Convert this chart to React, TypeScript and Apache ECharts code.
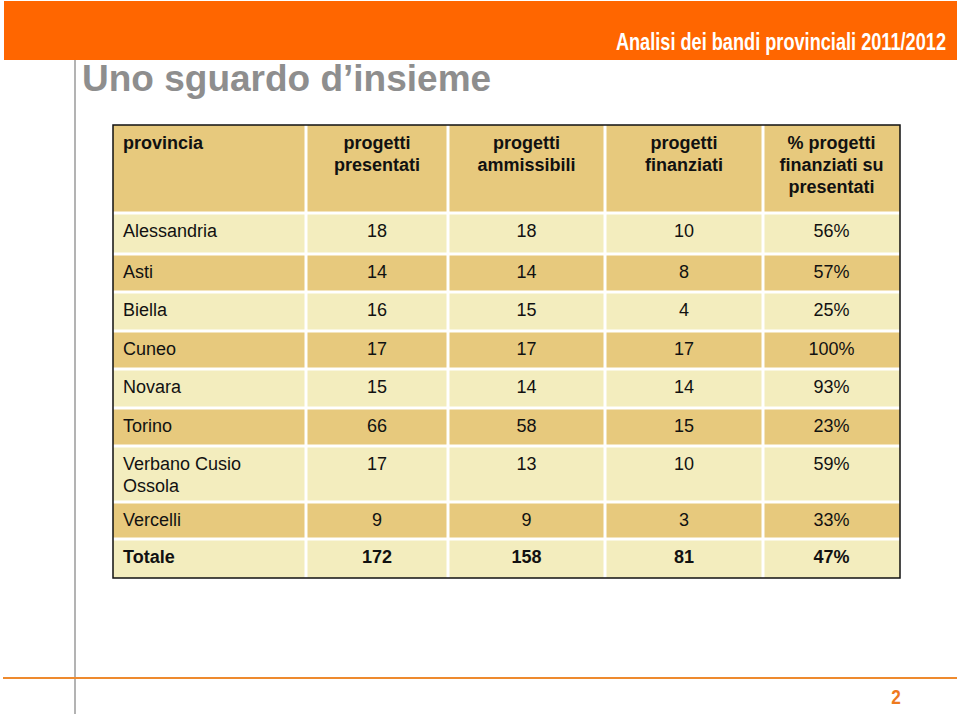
import React, { useEffect, useRef } from "react";
import * as echarts from "echarts";

const headers = [
  "provincia",
  "progetti\npresentati",
  "progetti\nammissibili",
  "progetti\nfinanziati",
  "% progetti\nfinanziati su\npresentati",
];
const provinces = [
  "Alessandria",
  "Asti",
  "Biella",
  "Cuneo",
  "Novara",
  "Torino",
  "Verbano Cusio\nOssola",
  "Vercelli",
];
const presentati = [18, 14, 16, 17, 15, 66, 17, 9];
const ammissibili = [18, 14, 15, 17, 14, 58, 13, 9];
const finanziati = [10, 8, 4, 17, 14, 15, 10, 3];
const percentFinanziati = [56, 57, 25, 100, 93, 23, 59, 33];
const totalLabel = "Totale";
const totals = [172, 158, 81, 47];

const bannerText = "Analisi dei bandi provinciali 2011/2012";
const titleText = "Uno sguardo d\u2019insieme";
const pageNumber = "2";

// layout (pixels inside the table grid)
const colEdges = [0, 193, 335, 492, 650, 787];
const rowEdges = [0, 88, 129, 167, 206, 244, 283, 321, 377, 414, 453];

const DARK = "#E7C97D";
const LIGHT = "#F3EDBE";
const FONT = "'Liberation Sans', Arial, sans-serif";

function buildRows(): string[][] {
  const rows: string[][] = [headers];
  provinces.forEach((p, i) => {
    rows.push([
      p,
      String(presentati[i]),
      String(ammissibili[i]),
      String(finanziati[i]),
      percentFinanziati[i] + "%",
    ]);
  });
  rows.push([
    totalLabel,
    String(totals[0]),
    String(totals[1]),
    String(totals[2]),
    totals[3] + "%",
  ]);
  return rows;
}

export default function App() {
  const ref = useRef<HTMLDivElement>(null);
  useEffect(() => {
    document.body.style.margin = "0";
    const chart = echarts.init(ref.current!, null, { renderer: "svg" });
    const rows = buildRows();
    const data: number[][] = [];
    rows.forEach((r, ri) => r.forEach((_, ci) => data.push([ci, ri])));
    const nRows = rows.length;

    chart.setOption({
      animation: false,
      grid: {
        left: 113,
        top: 125,
        width: 787,
        height: 453,
        show: true,
        borderColor: "#111",
        borderWidth: 1.5,
        backgroundColor: "transparent",
        z: 5,
      },
      xAxis: { type: "value", min: 0, max: 787, show: false },
      yAxis: { type: "value", min: 0, max: 453, inverse: true, show: false },
      series: [
        {
          type: "custom",
          coordinateSystem: "cartesian2d",
          data,
          z: 2,
          renderItem: (params: any, api: any) => {
            const c = api.value(0);
            const r = api.value(1);
            const p0 = api.coord([colEdges[c], rowEdges[r]]);
            const p1 = api.coord([colEdges[c + 1], rowEdges[r + 1]]);
            const gap = 1.5;
            const x0 = p0[0] + (c > 0 ? gap : 0);
            const x1 = p1[0] - (c < 4 ? gap : 0);
            const y0 = p0[1] + (r > 0 ? gap : 0);
            const y1 = p1[1] - (r < nRows - 1 ? gap : 0);
            const bold = r === 0 || r === nRows - 1;
            const fill = r % 2 === 0 ? DARK : LIGHT;
            const tx = c === 0 ? p0[0] + 10 : (p0[0] + p1[0]) / 2;
            return {
              type: "group",
              children: [
                {
                  type: "rect",
                  shape: { x: x0, y: y0, width: x1 - x0, height: y1 - y0 },
                  style: { fill },
                },
                {
                  type: "text",
                  style: {
                    text: rows[r][c],
                    x: tx,
                    y: p0[1] + (r === 0 ? 7 : 7),
                    align: c === 0 ? "left" : "center",
                    verticalAlign: "top",
                    fontSize: 18,
                    lineHeight: 22,
                    fontFamily: FONT,
                    fontWeight: bold ? "bold" : "normal",
                    fill: "#111",
                  },
                },
              ],
            };
          },
        },
      ],
      graphic: [
        {
          type: "rect",
          shape: { x: 4, y: 1, width: 953, height: 59 },
          style: { fill: "#FF6600" },
        },
        {
          type: "text",
          x: 946,
          y: 41.5,
          scaleX: 0.79,
          style: {
            text: bannerText,
            x: 0,
            y: 0,
            align: "right",
            verticalAlign: "middle",
            fontSize: 23,
            fontWeight: "bold",
            fontFamily: FONT,
            fill: "#fff",
          },
        },
        {
          type: "line",
          shape: { x1: 75, y1: 60, x2: 75, y2: 714 },
          style: { stroke: "#9a9a9a", lineWidth: 1.5 },
        },
        {
          type: "text",
          style: {
            text: titleText,
            x: 82,
            y: 78,
            align: "left",
            verticalAlign: "middle",
            fontSize: 37,
            fontWeight: "bold",
            fontFamily: FONT,
            fill: "#8E8E8E",
          },
        },
        {
          type: "line",
          shape: { x1: 3, y1: 678, x2: 957, y2: 678 },
          style: { stroke: "#EE8A2E", lineWidth: 2 },
        },
        {
          type: "text",
          x: 896,
          y: 697,
          scaleX: 0.82,
          style: {
            text: pageNumber,
            x: 0,
            y: 0,
            align: "center",
            verticalAlign: "middle",
            fontSize: 21,
            fontWeight: "bold",
            fontFamily: FONT,
            fill: "#EE7A1E",
          },
        },
      ],
    });
    return () => chart.dispose();
  }, []);
  return (
    <div
      ref={ref}
      style={{ position: "absolute", left: 0, top: 0, width: 960, height: 716 }}
    />
  );
}
